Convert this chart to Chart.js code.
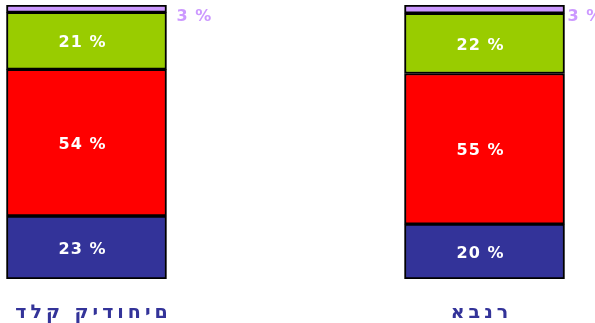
<!DOCTYPE html>
<html>
<head>
<meta charset="utf-8">
<script src="https://cdn.jsdelivr.net/npm/chart.js@4"></script>
<style>
  body { margin: 0; background: #fff; }
  #wrap { width: 595px; height: 323px; }
</style>
</head>
<body>
<div id="wrap"><canvas id="myChart"></canvas></div>
<script>
var categories = ['דלק קידוחים', 'אבנר'];
var seriesNames = ['s1', 's2', 's3', 's4'];
var blueVals = [23, 20];
var redVals = [53.5, 55];
var greenVals = [20.8, 22];
var purpleVals = [2.7, 3];
var colors = ['#333399', '#FF0000', '#99CC00', '#CC99FF'];

var allVals = [blueVals, redVals, greenVals, purpleVals];

function pts(vals) {
    return vals.map(function (v, i) { return { x: i, y: v }; });
}

var datasets = allVals.map(function (vals, k) {
    return {
        label: seriesNames[k],
        data: pts(vals),
        backgroundColor: colors[k],
        borderColor: '#000',
        borderWidth: 2,
        borderSkipped: false,
        barThickness: 160
    };
});

// labels inside the bars, the small top one goes outside on the right
var labelPlugin = {
    id: 'labels',
    afterDatasetsDraw: function (chart) {
        var ctx = chart.ctx;
        var last = chart.data.datasets.length - 1;
        var sideOffset = [10, 3];
        var nameOffset = [7, -3];
        ctx.save();
        ctx.textBaseline = 'middle';
        ctx.font = 'bold 16px "DejaVu Sans"';
        ctx.letterSpacing = '1px';
        chart.data.datasets.forEach(function (ds, k) {
            var meta = chart.getDatasetMeta(k);
            meta.data.forEach(function (el, i) {
                var txt = Math.round(ds.data[i].y) + ' %';
                if (k === last) {
                    ctx.fillStyle = '#CC99FF';
                    ctx.textAlign = 'left';
                    ctx.fillText(txt, el.x + el.width / 2 + sideOffset[i], el.y + 12);
                } else {
                    ctx.fillStyle = '#fff';
                    ctx.textAlign = 'center';
                    ctx.fillText(txt, el.x - 4, (el.y + el.base) / 2 + 2);
                }
            });
        });
        // category names under the bars (shown in left-to-right letter order like the original)
        var xs = chart.scales.x;
        ctx.font = 'bold 19px "DejaVu Sans"';
        ctx.letterSpacing = '4px';
        ctx.fillStyle = '#333399';
        ctx.textAlign = 'center';
        ctx.textBaseline = 'alphabetic';
        ctx.direction = 'ltr';
        categories.forEach(function (c, i) {
            ctx.fillText('\u202D' + c + '\u202C', xs.getPixelForValue(i) + nameOffset[i], 318);
        });
        ctx.restore();
    }
};

var ctx2 = document.getElementById('myChart').getContext('2d');
var myChart = new Chart(ctx2, {
    type: 'bar',
    data: { datasets: datasets },
    options: {
        responsive: true,
        maintainAspectRatio: false,
        animation: false,
        layout: { padding: { top: 5, bottom: 44, left: 0, right: 0 } },
        plugins: { legend: { display: false }, tooltip: { enabled: false } },
        scales: {
            x: {
                type: 'linear',
                stacked: true,
                display: false,
                min: -0.2173,
                max: 1.2776,
                offset: false
            },
            y: {
                stacked: true,
                display: false,
                min: 0,
                max: 100
            }
        }
    },
    plugins: [labelPlugin]
});
</script>
</body>
</html>
